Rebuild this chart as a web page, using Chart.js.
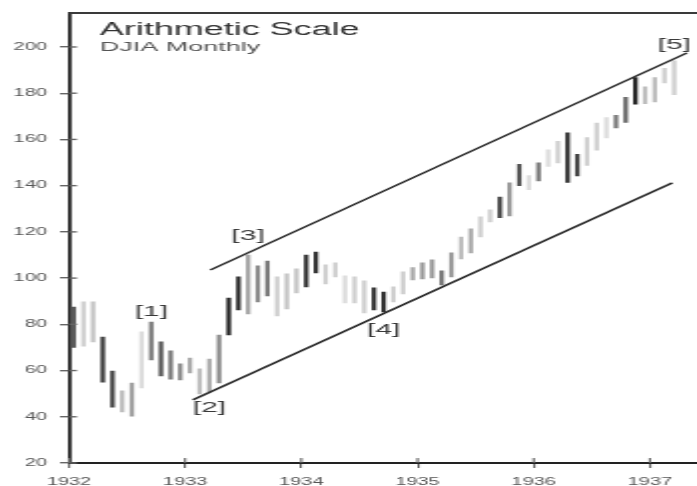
<!DOCTYPE html>
<html><head><meta charset="utf-8">
<script src="https://cdn.jsdelivr.net/npm/chart.js@4/dist/chart.umd.min.js"></script>
<style>
html,body{margin:0;padding:0;background:#fff;overflow:hidden;width:697px;height:486px;}
#wrap{position:absolute;left:0;top:0;width:349px;height:486px;transform:scaleX(1.99713);transform-origin:0 0;}
</style></head><body>
<div id="wrap"><canvas id="c" width="349" height="486"></canvas></div>
<script>
// ---- data ----
const chartTitle = 'Arithmetic Scale';
const chartSubtitle = 'DJIA Monthly';
const months = [
 'Jan 1932','Feb 1932','Mar 1932','Apr 1932','May 1932','Jun 1932','Jul 1932','Aug 1932','Sep 1932','Oct 1932','Nov 1932','Dec 1932',
 'Jan 1933','Feb 1933','Mar 1933','Apr 1933','May 1933','Jun 1933','Jul 1933','Aug 1933','Sep 1933','Oct 1933','Nov 1933','Dec 1933',
 'Jan 1934','Feb 1934','Mar 1934','Apr 1934','May 1934','Jun 1934','Jul 1934','Aug 1934','Sep 1934','Oct 1934','Nov 1934','Dec 1934',
 'Jan 1935','Feb 1935','Mar 1935','Apr 1935','May 1935','Jun 1935','Jul 1935','Aug 1935','Sep 1935','Oct 1935','Nov 1935','Dec 1935',
 'Jan 1936','Feb 1936','Mar 1936','Apr 1936','May 1936','Jun 1936','Jul 1936','Aug 1936','Sep 1936','Oct 1936','Nov 1936','Dec 1936',
 'Jan 1937','Feb 1937','Mar 1937'];
const highs = [
 87.5, 89.7, 89.7, 74.5, 59.8, 51.2, 54.6, 76.7, 81.0, 72.4, 68.5, 62.9,
 65.4, 60.7, 65.0, 75.4, 91.4, 100.5, 110.0, 105.3, 107.4, 100.5, 101.8, 104.0,
 110.0, 111.3, 105.7, 106.6, 101.0, 100.5, 98.8, 95.8, 94.0, 96.2, 102.7, 104.6,
 106.6, 107.9, 103.1, 110.9, 117.8, 121.3, 126.5, 129.5, 135.1, 141.2, 149.2, 144.4,
 149.9, 155.5, 159.2, 162.9, 153.5, 160.8, 167.1, 169.5, 170.4, 178.2, 186.8, 182.8,
 186.8, 190.8, 194.0];
const lows = [
 70.0, 70.6, 72.4, 55.0, 44.2, 42.1, 40.3, 52.5, 64.6, 57.7, 56.3, 55.9,
 59.0, 49.9, 50.7, 54.6, 75.4, 86.2, 84.5, 89.7, 92.3, 83.6, 86.7, 93.6,
 96.2, 102.2, 97.5, 100.5, 89.3, 89.3, 84.9, 86.2, 85.4, 89.7, 93.2, 99.2,
 99.6, 100.1, 97.0, 100.5, 108.3, 110.9, 117.8, 124.3, 126.1, 126.9, 140.0, 138.3,
 142.0, 148.3, 149.8, 141.4, 144.2, 148.8, 155.3, 160.7, 165.0, 167.4, 175.3, 175.5,
 176.2, 184.4, 179.4];
const yTickValues = [20, 40, 60, 80, 100, 120, 140, 160, 180, 200];
const yearTicks = ['1932', '1933', '1934', '1935', '1936', '1937'];
// channel lines: [month position, DJIA]
const upperChannel = [[14.6, 103.5], [63.8, 197.4]];
const lowerChannel = [[12.8, 47.3], [62.3, 141.2]];
const waveLabels = ['[1]', '[2]', '[3]', '[4]', '[5]'];
const waveMonths = ['Sep 1932', 'Mar 1933', 'Jul 1933', 'Sep 1934', 'Mar 1937'];

// ---- styles ----
const barShades = [
 '#5a5a5a','#cfcfcf','#c4c4c4','#3a3a3a','#444','#bdbdbd','#a0a0a0','#dcdcdc','#7a7a7a','#555','#777','#8a8a8a',
 '#aaa','#bdbdbd','#ababab','#8a8a8a','#222','#2a2a2a','#a5a5a5','#8a8a8a','#7a7a7a','#cfcfcf','#c4c4c4','#c4c4c4',
 '#333','#333','#cfcfcf','#cfcfcf','#dcdcdc','#cfcfcf','#cfcfcf','#333','#333','#cfcfcf','#cfcfcf','#aaa',
 '#9a9a9a','#9a9a9a','#777','#9a9a9a','#bdbdbd','#aaa','#cfcfcf','#cfcfcf','#444','#9a9a9a','#555','#dcdcdc',
 '#777','#dcdcdc','#cfcfcf','#333','#444','#cfcfcf','#cfcfcf','#dcdcdc','#777','#666','#222','#bdbdbd',
 '#bdbdbd','#cfcfcf','#cfcfcf'];
const waveSide = ['above', 'below', 'above', 'below', 'above'];
const waveGap = [10, 16, 19, 18, 16];
const FONT = '"Liberation Sans", Arial, Helvetica, sans-serif';

Chart.defaults.font.family = FONT;

const monthPos = i => i + 0.5;

const overlay = {
  id: 'overlay',
  afterDraw(chart) {
    const {ctx, chartArea: a, scales: {x, y}} = chart;
    ctx.save();
    ctx.strokeStyle = '#3a3a3a'; ctx.lineWidth = 2;
    ctx.beginPath(); ctx.moveTo(a.left, a.top); ctx.lineTo(a.right, a.top); ctx.stroke();
    ctx.strokeStyle = '#666'; ctx.lineWidth = 1.4;
    y.ticks.forEach(t => {
      const py = y.getPixelForValue(t.value);
      ctx.beginPath(); ctx.moveTo(a.left, py); ctx.lineTo(a.left + 4, py); ctx.stroke();
    });
    ctx.lineWidth = 1.1;
    x.ticks.forEach(t => {
      const px = x.getPixelForValue(t.value);
      ctx.beginPath(); ctx.moveTo(px, a.bottom); ctx.lineTo(px, a.bottom - 5); ctx.stroke();
    });
    ctx.textAlign = 'left'; ctx.textBaseline = 'alphabetic';
    ctx.fillStyle = '#333'; ctx.font = '18px ' + FONT;
    ctx.fillText(chartTitle, a.left + 15.5, 35);
    ctx.fillStyle = '#555'; ctx.font = '13.5px ' + FONT;
    ctx.fillText(chartSubtitle, a.left + 15.5, 51);
    ctx.fillStyle = '#3a3a3a'; ctx.font = '15px ' + FONT;
    ctx.textAlign = 'center'; ctx.textBaseline = 'middle';
    waveLabels.forEach((lab, k) => {
      const i = months.indexOf(waveMonths[k]);
      const px = x.getPixelForValue(monthPos(i));
      const py = waveSide[k] === 'above'
        ? y.getPixelForValue(highs[i]) - waveGap[k]
        : y.getPixelForValue(lows[i]) + waveGap[k];
      ctx.fillText(lab, px, py);
    });
    ctx.restore();
  }
};

new Chart(document.getElementById('c'), {
  data: {
    datasets: [
      {
        type: 'bar',
        data: months.map((m, i) => ({x: monthPos(i), y: [lows[i], highs[i]]})),
        backgroundColor: barShades,
        borderWidth: 0,
        barThickness: 1.6,
        grouped: false,
        order: 2
      },
      {
        type: 'line',
        data: upperChannel.map(p => ({x: p[0], y: p[1]})),
        borderColor: '#2a2a2a', borderWidth: 1.5, pointRadius: 0, fill: false, order: 1
      },
      {
        type: 'line',
        data: lowerChannel.map(p => ({x: p[0], y: p[1]})),
        borderColor: '#2a2a2a', borderWidth: 1.5, pointRadius: 0, fill: false, order: 1
      }
    ]
  },
  options: {
    responsive: false,
    animation: false,
    devicePixelRatio: 1,
    layout: {padding: {top: 13, right: 0, left: 0, bottom: 0}},
    plugins: {legend: {display: false}, tooltip: {enabled: false}},
    scales: {
      x: {
        type: 'linear', min: 0, max: 64.86, offset: false,
        afterBuildTicks: s => { s.ticks = yearTicks.map((t, i) => ({value: i * 12})); },
        afterFit: s => { s.height = 23; },
        ticks: {
          callback: (v, i) => yearTicks[i],
          color: '#555', font: {size: 10}, padding: 8, maxRotation: 0, autoSkip: false
        },
        grid: {offset: false, drawOnChartArea: false, drawTicks: true, tickLength: 5, tickColor: '#666', lineWidth: 1.1},
        border: {display: true, color: '#222', width: 2}
      },
      y: {
        type: 'linear', min: 20, max: 214.7,
        afterBuildTicks: s => { s.ticks = yTickValues.map(v => ({value: v})); },
        afterFit: s => { s.width = 34.5; },
        ticks: {color: '#555', font: {size: 10}, padding: 6.5},
        grid: {drawOnChartArea: false, drawTicks: true, tickLength: 4.5, tickColor: '#666', lineWidth: 1.4},
        border: {display: true, color: '#222', width: 1.8}
      }
    }
  },
  plugins: [overlay]
});
</script>
</body></html>
